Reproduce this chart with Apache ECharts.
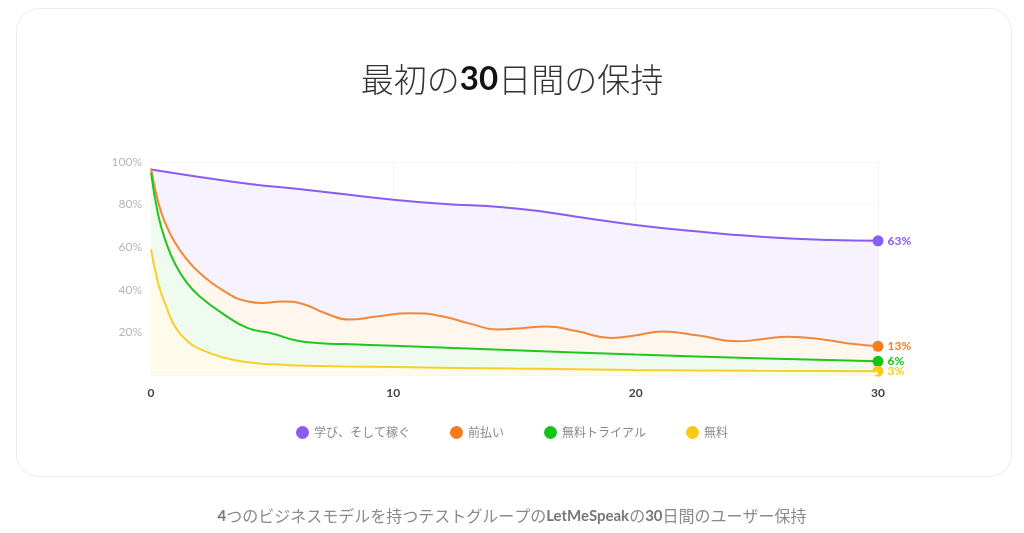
<!DOCTYPE html>
<html><head><meta charset="utf-8">
<script src="https://cdn.jsdelivr.net/npm/echarts@6/dist/echarts.min.js"></script>
<style>html,body{margin:0;padding:0;background:#fff}#c{width:1024px;height:533px}</style>
</head><body><div id="c"></div>
<script>
const seriesNames = ['学び、そして稼ぐ','前払い','無料トライアル','無料'];
const learnEarnDays = [0,2,4,6,8,10,12,14.5,16,18,20,22,24,26,28,30];
const learnEarn = [96.5,93,89.8,87.4,84.9,82.3,80.4,78.8,77,73.6,70.4,68,65.9,64.3,63.4,63];
const prepaidDays = [0,0.3,0.6,1,1.5,2,3,4,4.6,5.4,6.3,7.2,8.2,9.3,10.7,12,13.2,14.3,15.3,16.3,17.6,19,20.1,21.1,22.6,24.2,25.2,26.3,27.8,29,30];
const prepaid = [97,81,71,62,54,48,39.5,34.5,33.8,34.5,33.2,29,26,27.5,29,27.6,24,21.4,22,22.8,20.5,17.4,18.8,20.4,18.5,15.8,16.8,18,16.6,14.5,13.5];
const freeTrialDays = [0,0.3,0.6,1,1.5,2,3,4,5,6,7,8,10,15,20,25,30];
const freeTrial = [95,75,63,52,43,37,28.5,22,19.5,16.2,14.9,14.5,13.7,11.6,9.6,7.9,6.4];
const freeDays = [0,0.3,0.6,1,1.5,2,3,4,5,6,8,10,15,20,25,30];
const free = [59,43,33,22.5,16,12.3,8.2,6,5,4.5,4,3.7,3,2.4,2,1.8];
const endLabels = ['63%','13%','6%','3%'];
const yTicks = [0,20,40,60,80,100];
const lineColors = ['#8a5cf0','#f0883a','#1fc71f','#f7cf2a'];
const fillColors = ['#f6f3ff','#fff6ee','#eefbee','#fffbea'];
const dotColors = ['#8a5cf0','#f57c1f','#13c413','#f8c915'];
const allDays = [learnEarnDays, prepaidDays, freeTrialDays, freeDays];
const allVals = [learnEarn, prepaid, freeTrial, free];

const series = allVals.map((vals, i) => {
  const ds = allDays[i];
  return {
    name: seriesNames[i],
    type: 'line',
    smooth: 0.5,
    symbol: 'none',
    data: ds.map((d, k) => [d, vals[k]]),
    lineStyle: {color: lineColors[i], width: 2},
    itemStyle: {color: dotColors[i]},
    areaStyle: {color: fillColors[i], opacity: 1},
    z: 2 + i,
    markPoint: {
      symbol: 'circle', symbolSize: 11,
      itemStyle: {color: dotColors[i]},
      data: [{coord: [ds[ds.length-1], vals[vals.length-1]],
        label: {show: true, position: 'right', distance: 4, formatter: endLabels[i],
          color: dotColors[i], fontWeight: 'bold', fontSize: 12, fontFamily: 'Lato, sans-serif'}}]
    }
  };
});

const chart = echarts.init(document.getElementById('c'));
chart.setOption({
  animation: false,
  backgroundColor: '#fff',
  graphic: [{type: 'rect', shape: {x: 16.5, y: 8.5, width: 995, height: 468, r: 22},
    style: {fill: '#fff', stroke: '#ececec', lineWidth: 1}, z: -10}],
  title: [{
    text: '{a|最初の}{b|30}{a|日間の保持}',
    left: 'center', top: 58,
    textStyle: {fontWeight: 'normal', rich: {
      a: {fontSize: 33, color: '#333', fontFamily: '"Noto Sans CJK JP"', fontWeight: 300},
      b: {fontSize: 33, color: '#111', fontFamily: 'Lato, sans-serif', fontWeight: 'bold'}
    }}
  }, {
    text: '{b|4}{a|つのビジネスモデルを持つテストグループの}{b|LetMeSpeak}{a|の}{b|30}{a|日間のユーザー保持}',
    left: 'center', top: 503,
    textStyle: {fontWeight: 'normal', rich: {
      a: {fontSize: 16, color: '#8a8a8a', fontFamily: '"Noto Sans CJK JP"', fontWeight: 'normal'},
      b: {fontSize: 15, color: '#777', fontFamily: 'Lato, sans-serif', fontWeight: 'bold'}
    }}
  }],
  legend: {
    bottom: 89, left: 'center', icon: 'circle', itemWidth: 13, itemHeight: 13, itemGap: 40,
    data: seriesNames.map((n, i) => ({name: n, itemStyle: {color: dotColors[i]}})),
    textStyle: {color: '#888', fontSize: 12, fontFamily: '"Noto Sans CJK JP"'}
  },
  grid: {left: 151, right: 146, top: 162, bottom: 158, containLabel: false},
  xAxis: {
    type: 'value', min: 0, max: 30, interval: 10,
    axisLine: {show: false}, axisTick: {show: false},
    splitLine: {show: true, lineStyle: {color: '#f4f4f4'}},
    axisLabel: {color: '#444', fontSize: 12, fontWeight: 'bold', margin: 12, fontFamily: 'Lato, sans-serif'}
  },
  yAxis: {
    type: 'value', min: yTicks[0], max: yTicks[yTicks.length-1], interval: 20,
    axisLine: {show: false}, axisTick: {show: false},
    splitLine: {show: true, lineStyle: {color: '#f6f6f6'}},
    axisLabel: {color: '#b5b5b5', fontSize: 12, margin: 9, fontFamily: 'Lato, sans-serif',
      formatter: v => v === 0 ? '' : v + '%'}
  },
  series: series
});
</script></body></html>
